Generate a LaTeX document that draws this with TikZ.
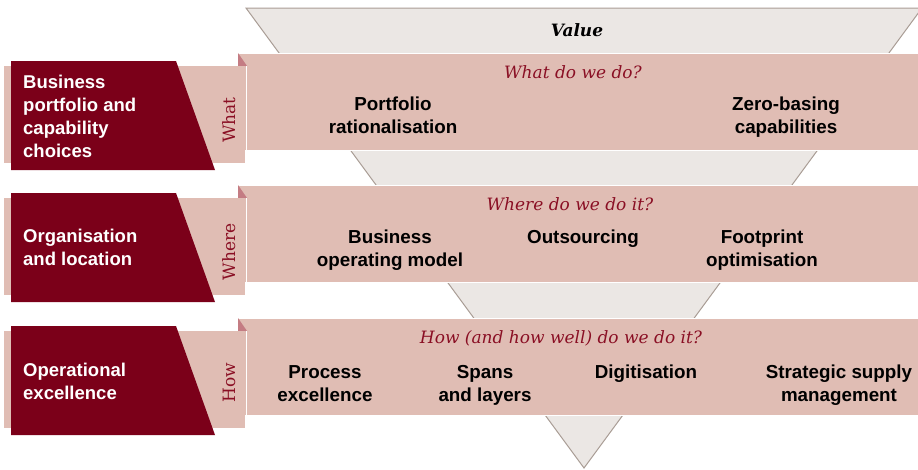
\documentclass[tikz,border=0pt]{standalone}
\usepackage{fontspec}
\setsansfont{Liberation Sans}
\newfontfamily\headfont{DejaVu Serif}
\definecolor{bandpink}{HTML}{E0BDB4}
\definecolor{foldpink}{HTML}{C47C83}
\definecolor{darkred}{HTML}{7B0019}
\definecolor{headred}{HTML}{8A0F24}
\definecolor{funnelgray}{HTML}{EBE7E4}
\definecolor{funneledge}{HTML}{A99D95}
\begin{document}
\begin{tikzpicture}[x=1pt, y=-1pt,
    lefttext/.style={text=white, font=\sffamily\bfseries\fontsize{18.5}{23}\selectfont, align=left, anchor=base west, inner sep=0pt},
    itemtext/.style={text=black, font=\sffamily\bfseries\fontsize{18.8}{23}\selectfont, align=center, anchor=base, inner sep=0pt},
    question/.style={text=headred, font=\headfont\itshape\fontsize{17}{19}\selectfont, anchor=base, inner sep=0pt},
    sidetag/.style={text=headred, font=\headfont\fontsize{17}{19}\selectfont, rotate=90, inner sep=0pt}]
    \useasboundingbox (0,0) rectangle (918,469);
    % funnel
    \draw [fill=funnelgray, draw=funneledge, line width=1pt] (246,8) -- (922,8) -- (584,468) -- cycle;
    \node (value) [font=\headfont\bfseries\itshape\fontsize{17}{20}\selectfont, anchor=base, inner sep=0pt] at (577,36) {Value};
    % what
    \fill [bandpink, draw=white, line width=1pt] (238,53) rectangle (920,150);
    \fill [foldpink] (238,53) -- (247,66) -- (238,66) -- cycle;
    \fill [bandpink] (4,66) rectangle (245,163);
    \draw [white, line width=1.5pt] (246.5,66) -- (246.5,150);
    \fill [darkred] (11,61) -- (176,61) -- (215,170) -- (11,170) -- cycle;
    \node (what) [sidetag] at (229,120) {What};
    \node (choices) [lefttext] at (23,157) {Business\\portfolio and\\capability\\choices};
    \node (whatq) [question] at (573,78) {What do we do?};
    \node (portfolio) [itemtext] at (393,133) {Portfolio\\rationalisation};
    \node (zerobasing) [itemtext] at (786,133) {Zero-basing\\capabilities};
    % where
    \fill [bandpink, draw=white, line width=1pt] (238,185) rectangle (920,282);
    \fill [foldpink] (238,185) -- (247,198) -- (238,198) -- cycle;
    \fill [bandpink] (4,198) rectangle (245,295);
    \draw [white, line width=1.5pt] (246.5,198) -- (246.5,282);
    \fill [darkred] (11,193) -- (176,193) -- (215,302) -- (11,302) -- cycle;
    \node (where) [sidetag] at (229,252) {Where};
    \node (location) [lefttext] at (23,265) {Organisation\\and location};
    \node (whereq) [question] at (570,210) {Where do we do it?};
    \node (opmodel) [itemtext] at (390,266) {Business\\operating model};
    \node (outsourcing) [itemtext] at (583,243) {Outsourcing};
    \node (footprint) [itemtext] at (762,266) {Footprint\\optimisation};
    % how
    \fill [bandpink, draw=white, line width=1pt] (238,318) rectangle (920,415);
    \fill [foldpink] (238,318) -- (247,331) -- (238,331) -- cycle;
    \fill [bandpink] (4,331) rectangle (245,428);
    \draw [white, line width=1.5pt] (246.5,331) -- (246.5,415);
    \fill [darkred] (11,326) -- (176,326) -- (215,435) -- (11,435) -- cycle;
    \node (how) [sidetag] at (229,383) {How};
    \node (excellence) [lefttext] at (23,399) {Operational\\excellence};
    \node (howq) [question] at (561,343) {How (and how well) do we do it?};
    \node (process) [itemtext] at (325,401) {Process\\excellence};
    \node (spans) [itemtext] at (485,401) {Spans\\and layers};
    \node (digitisation) [itemtext] at (646,378) {Digitisation};
    \node (supply) [itemtext] at (839,401) {Strategic supply\\management};
\end{tikzpicture}
\end{document}
